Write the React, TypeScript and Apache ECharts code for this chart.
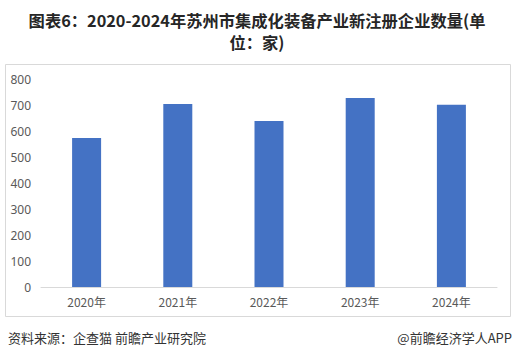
import React, { useEffect, useRef } from "react";
import * as echarts from "echarts";

const titleText = "图表6：2020-2024年苏州市集成化装备产业新注册企业数量(单\n位：家)";
const categories = ["2020年", "2021年", "2022年", "2023年", "2024年"];
const values = [573, 704, 638, 727, 701];
const yTicks = { min: 0, max: 800, interval: 100 };
const sourceText = "资料来源：企查猫 前瞻产业研究院";
const brandText = "@前瞻经济学人APP";

export default function App() {
  const ref = useRef<HTMLDivElement>(null);
  useEffect(() => {
    const chart = echarts.init(ref.current!, null, { renderer: "svg" });
    chart.setOption({
      animation: false,
      backgroundColor: "#ffffff",
      title: {
        text: titleText,
        left: "center",
        top: 4,
        textStyle: {
          fontFamily: "Noto Sans CJK SC",
          fontSize: 16.3,
          fontWeight: "bold",
          color: "#262626",
          lineHeight: 22,
        },
      },
      grid: { left: 41, right: 17, top: 79, bottom: 74, outerBoundsMode: "none" },
      xAxis: {
        type: "category",
        data: categories,
        axisLine: { lineStyle: { color: "#d9d9d9" } },
        axisTick: { show: false },
        axisLabel: { color: "#595959", fontSize: 12, fontFamily: "Noto Sans CJK SC", margin: 8 },
      },
      yAxis: {
        type: "value",
        min: yTicks.min,
        max: yTicks.max,
        interval: yTicks.interval,
        splitLine: { show: false },
        axisLine: { show: false },
        axisTick: { show: false },
        axisLabel: { color: "#595959", fontSize: 12, fontFamily: "Noto Sans", margin: 10, align: "right" },
      },
      series: [
        {
          type: "bar",
          data: values,
          barWidth: 29,
          itemStyle: { color: "#4472c4" },
        },
      ],
      graphic: [
        {
          type: "rect",
          shape: { x: 5.5, y: 64.5, width: 505, height: 252 },
          style: { fill: "none", stroke: "#d9d9d9", lineWidth: 1 },
          silent: true,
        },
        {
          type: "text",
          left: 8,
          top: 331,
          style: { text: sourceText, fontSize: 13, fill: "#333333", fontFamily: "Noto Sans CJK SC" },
        },
        {
          type: "text",
          right: 2,
          top: 331,
          style: { text: brandText, fontSize: 13, fill: "#333333", fontFamily: "Noto Sans CJK SC" },
        },
      ],
    });
    return () => chart.dispose();
  }, []);
  return <div ref={ref} style={{ width: 514, height: 361, position: "absolute", left: 0, top: 0 }} />;
}
